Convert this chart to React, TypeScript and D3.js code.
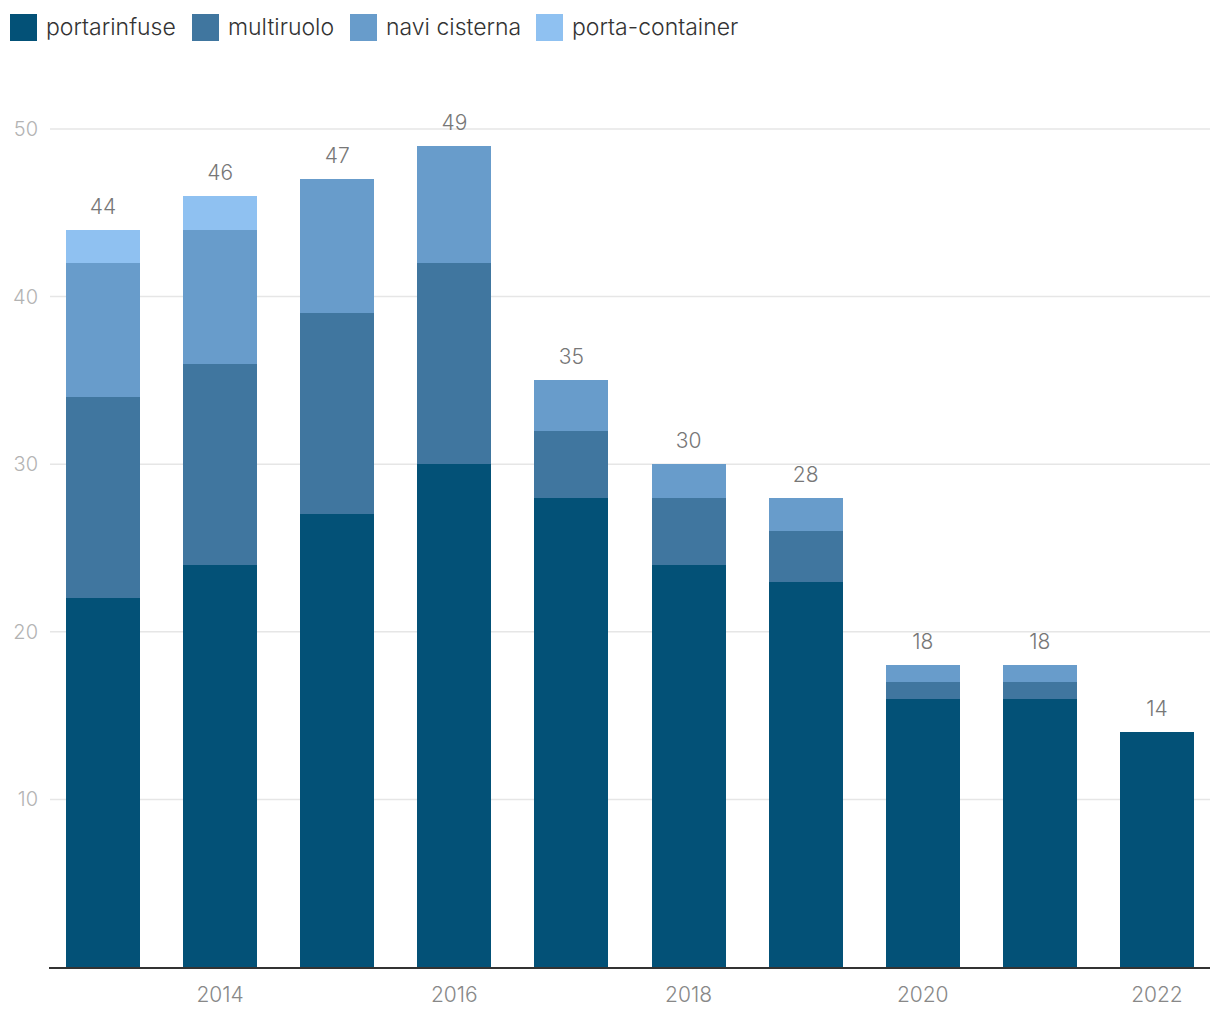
import React from "react";
import * as d3 from "d3";

const years = ["2013", "2014", "2015", "2016", "2017", "2018", "2019", "2020", "2021", "2022"];
const seriesNames = ["portarinfuse", "multiruolo", "navi cisterna", "porta-container"];
const colors = ["#035177", "#40769f", "#689ccb", "#8fc1f1"];
const portarinfuse = [22, 24, 27, 30, 28, 24, 23, 16, 16, 14];
const multiruolo = [12, 12, 12, 12, 4, 4, 3, 1, 1, 0];
const naviCisterna = [8, 8, 8, 7, 3, 2, 2, 1, 1, 0];
const portaContainer = [2, 2, 0, 0, 0, 0, 0, 0, 0, 0];
const yTicks = [10, 20, 30, 40, 50];
const xTickLabels = ["2014", "2016", "2018", "2020", "2022"];

const W = 1220;
const H = 1020;
const FONT = "Inter, 'Noto Sans', sans-serif";

export default function App() {
  const rows = years.map((y, i) => ({
    year: y,
    portarinfuse: portarinfuse[i],
    multiruolo: multiruolo[i],
    "navi cisterna": naviCisterna[i],
    "porta-container": portaContainer[i],
  }));
  const stack = d3.stack<any>().keys(seriesNames)(rows);
  const totals = rows.map((r) => seriesNames.reduce((s, k) => s + (r as any)[k], 0));

  const x = d3.scaleBand().domain(years).range([44.5, 1215.5]).paddingInner(0.368).paddingOuter(0.184);
  const y = d3.scaleLinear().domain([0, 50]).range([967, 129]);

  const legendX = [10, 192, 350, 536];

  return (
    <svg width={W} height={H} style={{ position: "absolute", left: 0, top: 0, fontFamily: FONT }}>
      {seriesNames.map((n, i) => (
        <g key={n}>
          <rect x={legendX[i]} y={14} width={27} height={27} fill={colors[i]} />
          <text x={legendX[i] + 36} y={35} fontSize={23} fill="#333" fontWeight={300}>{n}</text>
        </g>
      ))}
      {yTicks.map((t) => (
        <g key={t}>
          <line x1={50} x2={1210} y1={y(t)} y2={y(t)} stroke="#e6e6e6" strokeWidth={1.5} />
          <text x={38} y={y(t) + 7} fontSize={20} fill="#b3b3b3" textAnchor="end" fontWeight={300}>{t}</text>
        </g>
      ))}
      {stack.map((s, si) => (
        <g key={seriesNames[si]} fill={colors[si]} shapeRendering="crispEdges">
          {s.map((d, i) =>
            d[1] - d[0] > 0 ? (
              <rect key={i} x={x(years[i])} width={x.bandwidth()} y={y(d[1])} height={y(d[0]) - y(d[1])} />
            ) : null
          )}
        </g>
      ))}
      {years.map((yr, i) => (
        <text key={yr} x={(x(yr) as number) + x.bandwidth() / 2} y={y(totals[i]) - 16} fontSize={21} fill="#777" textAnchor="middle" fontWeight={300}>
          {totals[i]}
        </text>
      ))}
      <line x1={49} x2={1210} y1={968} y2={968} stroke="#333" strokeWidth={2} />
      {xTickLabels.map((t) => (
        <text key={t} x={(x(t) as number) + x.bandwidth() / 2} y={1002} fontSize={21} fill="#888" textAnchor="middle" fontWeight={300}>{t}</text>
      ))}
    </svg>
  );
}
